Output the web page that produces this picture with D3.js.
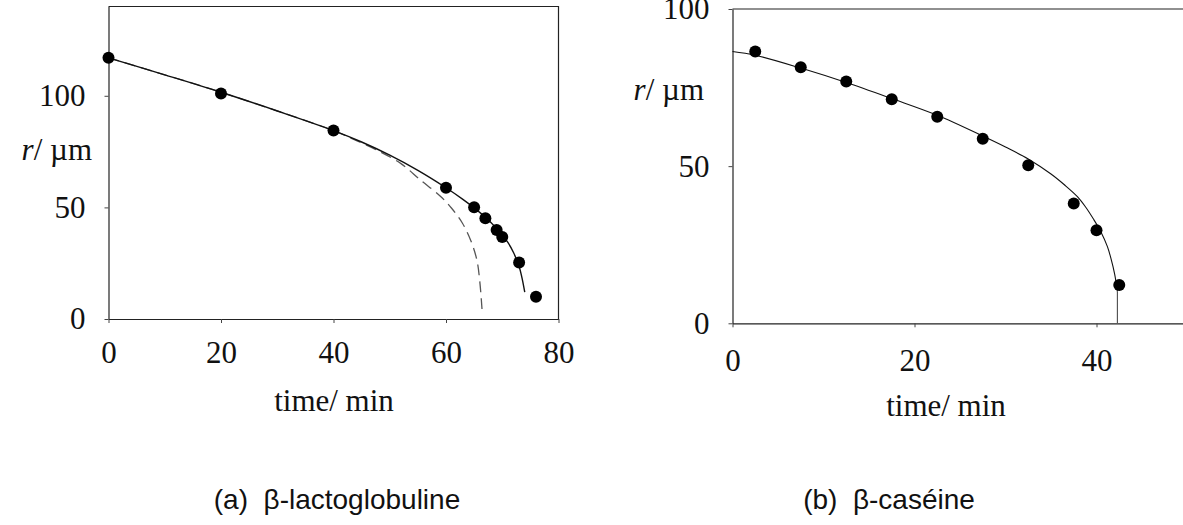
<!DOCTYPE html>
<html>
<head>
<meta charset="utf-8">
<script src="https://cdn.jsdelivr.net/npm/d3@7"></script>
<style>
  html, body { margin: 0; padding: 0; background: #fff; }
  svg { display: block; }
</style>
</head>
<body>
<svg id="chart" width="1183" height="525"></svg>
<script>
// ---------- Data ----------
// Panel (a) β-lactoglobuline
const aTime = [0, 20, 40, 60, 65, 67, 69, 70, 73, 76];
const aRadius = [117, 101, 84.5, 58.8, 50.1, 45.1, 39.9, 36.7, 25.3, 10];
const aFitTime = [0, 10, 20, 30, 40, 45, 50, 55, 60, 63, 65, 67, 69, 70, 71, 72, 73, 73.5, 74];
const aFitRadius = [117, 109.4, 101.6, 93.2, 84.4, 79.3, 73.4, 66.6, 58.8, 53.6, 49.8, 45.6, 40.6, 37.6, 34.3, 29.8, 23.5, 18.5, 12];
const aDashTime = [0, 10, 20, 30, 40, 44, 48, 52, 55.5, 59, 61, 62.9, 64.4, 65.5, 66, 66.4];
const aDashRadius = [117, 109.4, 101.6, 93.2, 84.4, 80, 75.3, 69.6, 62.2, 55, 49.6, 43, 35.2, 26.3, 17, 4.5];
const aXTicks = [0, 20, 40, 60, 80];
const aYTicks = [0, 50, 100];

// Panel (b) β-caséine
const bTime = [2.5, 7.5, 12.5, 17.5, 22.5, 27.5, 32.5, 37.5, 40, 42.5];
const bRadius = [86.5, 81.5, 76.9, 71.3, 65.7, 58.7, 50.3, 38.1, 29.6, 12.2];
const bFitTime = [0, 2.5, 7.5, 12.5, 17.5, 22.5, 27.5, 30, 32.5, 35, 36.5, 37.9, 38.8, 39.7, 40.5, 41.2, 41.6, 42, 42.3];
const bFitRadius = [86.5, 85.3, 81.2, 76.6, 71.5, 66.2, 59.6, 56.1, 52.3, 47.5, 44, 40.3, 37, 33, 29, 24.4, 20.5, 15.6, 10.1];
const bStemTime = [42.3, 42.3];
const bStemRadius = [10.1, 0];
const bXTicks = [0, 20, 40];
const bYTicks = [0, 50, 100];

const xTitle = "time/ min";
const captionA = "(a)\u00A0\u00A0\u03B2-lactoglobuline";
const captionB = "(b)\u00A0\u00A0\u03B2-caséine";

// ---------- Drawing ----------
const svg = d3.select("#chart");
const serif = '"Liberation Serif", "Times New Roman", serif';
const sans = '"Liberation Sans", Arial, Helvetica, sans-serif';
const zip = (xs, ys) => xs.map((x, i) => ({ x, y: ys[i] }));

function panel(cfg) {
  const g = svg.append("g");
  const x = d3.scaleLinear().domain(cfg.xDomain).range(cfg.xRange);
  const y = d3.scaleLinear().domain(cfg.yDomain).range(cfg.yRange);
  const [x0, x1] = cfg.xRange, [y0, y1] = cfg.yRange;

  // frame (top and right)
  g.append("path")
    .attr("d", `M${x0},${y1}H${x1}V${y0}`)
    .attr("fill", "none").attr("stroke", "#222").attr("stroke-width", 1.2);

  const xAxis = g.append("g").attr("transform", `translate(0,${y0})`)
    .call(d3.axisBottom(x).tickValues(cfg.xTicks).tickSize(4).tickPadding(cfg.xPad).tickSizeOuter(0));
  const yAxis = g.append("g").attr("transform", `translate(${x0},0)`)
    .call(d3.axisLeft(y).tickValues(cfg.yTicks).tickSize(4).tickPadding(19).tickSizeOuter(0));
  [xAxis, yAxis].forEach(a => {
    a.select(".domain").attr("stroke", "#222").attr("stroke-width", 1.2);
    a.selectAll(".tick line").attr("stroke", "#444");
    a.selectAll(".tick text").attr("font-family", serif).attr("font-size", 31).attr("fill", "#111");
  });

  const line = d3.line().x(d => x(d.x)).y(d => y(d.y)).curve(d3.curveCatmullRom.alpha(0.5));
  (cfg.dashed || []).forEach(s => {
    g.append("path").datum(s).attr("d", line)
      .attr("fill", "none").attr("stroke", "#555").attr("stroke-width", 1.3)
      .attr("stroke-dasharray", "11,6");
  });
  cfg.fits.forEach(s => {
    g.append("path").datum(s).attr("d", line)
      .attr("fill", "none").attr("stroke", "#111").attr("stroke-width", cfg.fitWidth);
  });
  (cfg.stems || []).forEach(s => {
    g.append("path").datum(s).attr("d", d3.line().x(d => x(d.x)).y(d => y(d.y)))
      .attr("fill", "none").attr("stroke", "#555").attr("stroke-width", 1.2);
  });
  g.selectAll("circle.pt").data(cfg.points).join("circle")
    .attr("class", "pt").attr("cx", d => x(d.x)).attr("cy", d => y(d.y))
    .attr("r", 6).attr("fill", "#000");

  // y title: r/ µm
  const yt = g.append("text").attr("x", cfg.yTitle[0]).attr("y", cfg.yTitle[1])
    .attr("text-anchor", "end").attr("font-family", serif).attr("font-size", 31).attr("fill", "#111");
  yt.append("tspan").attr("font-style", "italic").text("r");
  yt.append("tspan").text("/ \u00B5m");

  g.append("text").attr("x", cfg.xTitle[0]).attr("y", cfg.xTitle[1])
    .attr("text-anchor", "middle").attr("font-family", serif).attr("font-size", 31).attr("fill", "#111")
    .text(xTitle);

  g.append("text").attr("x", cfg.caption[0]).attr("y", cfg.caption[1])
    .attr("text-anchor", "middle").attr("font-family", sans).attr("font-size", 28).attr("fill", "#111")
    .text(cfg.captionText);
}

panel({
  xDomain: [0, 80], xRange: [108.5, 558.5],
  yDomain: [0, 140], yRange: [319, 6.5],
  xTicks: aXTicks, yTicks: aYTicks, xPad: 18,
  points: zip(aTime, aRadius),
  fits: [zip(aFitTime, aFitRadius)], fitWidth: 1.4,
  dashed: [zip(aDashTime, aDashRadius)],
  yTitle: [92, 160], xTitle: [334, 411],
  caption: [337, 509], captionText: captionA
});

panel({
  xDomain: [0, 50], xRange: [732.5, 1187.5],
  yDomain: [0, 100], yRange: [323.3, 9],
  xTicks: bXTicks, yTicks: bYTicks, xPad: 22,
  points: zip(bTime, bRadius),
  fits: [zip(bFitTime, bFitRadius)], fitWidth: 1.1,
  stems: [zip(bStemTime, bStemRadius)],
  yTitle: [704, 100], xTitle: [946, 416],
  caption: [889, 509], captionText: captionB
});
</script>
</body>
</html>
